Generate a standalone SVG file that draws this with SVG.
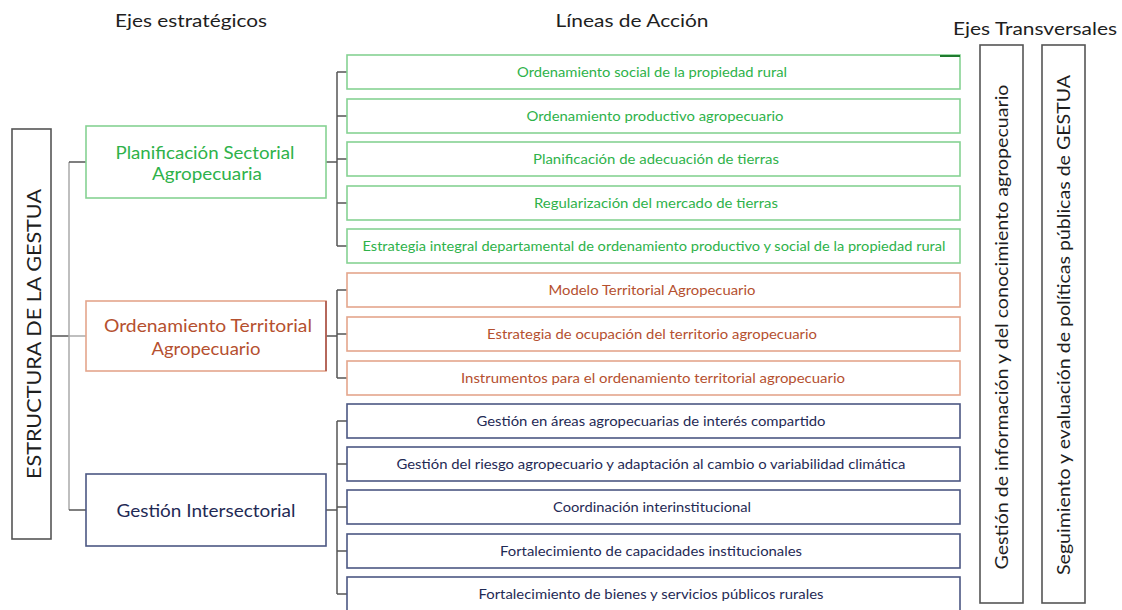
<svg xmlns="http://www.w3.org/2000/svg" width="1122" height="610" viewBox="0 0 1122 610">
<style>
text{font-family:Lato,"Open Sans","Liberation Sans",sans-serif;text-anchor:middle;dominant-baseline:central}
.hdr{font-size:18px;fill:#1e1e1e}
.act{font-size:13px}
.str{font-size:17px}
.box{fill:#fff;stroke-width:1.6}
.g{stroke:#86d293}.gt{fill:#2eb24a}
.o{stroke:#e4a68c}.ot{fill:#b5502f}
.b{stroke:#4c5783}.bt{fill:#1f2a55}
.k{stroke:#555;fill:#fff;stroke-width:1.6}
.c{fill:none;stroke:#555;stroke-width:1.5}
.cl{fill:none;stroke:#aaa;stroke-width:1.5}
</style>
<g id="headers">
<text class="hdr" x="191" y="20" textLength="152" lengthAdjust="spacingAndGlyphs">Ejes estratégicos</text>
<text class="hdr" x="632" y="20" textLength="153" lengthAdjust="spacingAndGlyphs">Líneas de Acción</text>
<text class="hdr" x="1035" y="28" textLength="164" lengthAdjust="spacingAndGlyphs">Ejes Transversales</text>
</g>
<g id="connectors">
<path class="c" d="M51 336H69"/>
<path class="cl" d="M69 162V510"/>
<path class="c" d="M69 162H86M69 510H86"/>
<path class="cl" d="M69 336H86"/>
<path class="c" d="M326 162H337M337 72V246M337 72H347M337 116H347M337 159H347M337 203H347M337 246H347"/>
<path class="c" d="M326 336H337M337 290V378M337 290H347M337 334H347M337 378H347"/>
<path class="c" d="M326 510H337M337 421V594M337 421H347M337 464H347M337 507H347M337 551H347M337 594H347"/>
</g>
<g id="root">
<rect class="k" x="12" y="129" width="39" height="410"/>
<text x="33" y="334" font-size="20" fill="#1e1e1e" transform="rotate(-90 33 334)" textLength="290" lengthAdjust="spacingAndGlyphs">ESTRUCTURA DE LA GESTUA</text>
</g>
<g id="eje-planificacion">
<rect class="box g" x="86" y="126" width="240" height="72" stroke="#5cbf6a"/>
<text class="str gt" x="205" y="152" textLength="179" lengthAdjust="spacingAndGlyphs">Planificación  Sectorial</text>
<text class="str gt" x="207" y="173" textLength="110" lengthAdjust="spacingAndGlyphs">Agropecuaria</text>
</g>
<g id="eje-ordenamiento">
<rect class="box o" x="86" y="301" width="240" height="70"/>
<path d="M326 301V371" stroke="#a8544a" stroke-width="1.6"/>
<text class="str ot" x="208" y="325" textLength="208" lengthAdjust="spacingAndGlyphs">Ordenamiento Territorial</text>
<text class="str ot" x="206" y="348" textLength="109" lengthAdjust="spacingAndGlyphs">Agropecuario</text>
</g>
<g id="eje-gestion">
<rect class="box b" x="86" y="474" width="240" height="72"/>
<text class="str bt" x="206" y="510" textLength="179" lengthAdjust="spacingAndGlyphs">Gestión Intersectorial</text>
</g>
<g id="a1"><rect class="box g" x="347" y="55" width="613" height="34"/><path d="M940 56H960" stroke="#1f7a2e" stroke-width="2"/><text class="act gt" x="652" y="72" textLength="270" lengthAdjust="spacingAndGlyphs">Ordenamiento social de la propiedad rural</text></g>
<g id="a2"><rect class="box g" x="347" y="99" width="613" height="34"/><text class="act gt" x="655" y="116" textLength="257" lengthAdjust="spacingAndGlyphs">Ordenamiento productivo agropecuario</text></g>
<g id="a3"><rect class="box g" x="347" y="142" width="613" height="34"/><text class="act gt" x="656" y="159" textLength="246" lengthAdjust="spacingAndGlyphs">Planificación de adecuación de tierras</text></g>
<g id="a4"><rect class="box g" x="347" y="186" width="613" height="34"/><text class="act gt" x="656" y="203" textLength="244" lengthAdjust="spacingAndGlyphs">Regularización del mercado de tierras</text></g>
<g id="a5"><rect class="box g" x="347" y="229" width="613" height="34"/><text class="act gt" x="654" y="246" textLength="583" lengthAdjust="spacingAndGlyphs">Estrategia integral departamental de ordenamiento productivo y social de la propiedad rural</text></g>
<g id="a6"><rect class="box o" x="347" y="273" width="613" height="34"/><text class="act ot" x="652" y="290" textLength="207" lengthAdjust="spacingAndGlyphs">Modelo Territorial Agropecuario</text></g>
<g id="a7"><rect class="box o" x="347" y="317" width="613" height="34"/><text class="act ot" x="652" y="334" textLength="330" lengthAdjust="spacingAndGlyphs">Estrategia de ocupación del territorio agropecuario</text></g>
<g id="a8"><rect class="box o" x="347" y="361" width="613" height="34"/><text class="act ot" x="653" y="378" textLength="384" lengthAdjust="spacingAndGlyphs">Instrumentos para el ordenamiento territorial agropecuario</text></g>
<g id="a9"><rect class="box b" x="347" y="404" width="613" height="34" stroke="#3c4252"/><text class="act bt" x="651" y="421" textLength="349" lengthAdjust="spacingAndGlyphs">Gestión en áreas agropecuarias de interés compartido</text></g>
<g id="a10"><rect class="box b" x="347" y="447" width="613" height="34"/><text class="act bt" x="651" y="464" textLength="509" lengthAdjust="spacingAndGlyphs">Gestión del riesgo agropecuario y adaptación al cambio o variabilidad climática</text></g>
<g id="a11"><rect class="box b" x="347" y="490" width="613" height="34"/><text class="act bt" x="652" y="507" textLength="198" lengthAdjust="spacingAndGlyphs">Coordinación interinstitucional</text></g>
<g id="a12"><rect class="box b" x="347" y="534" width="613" height="34" stroke="#3c4252"/><text class="act bt" x="651" y="551" textLength="302" lengthAdjust="spacingAndGlyphs">Fortalecimiento de capacidades institucionales</text></g>
<g id="a13"><rect class="box b" x="347" y="577" width="613" height="34"/><text class="act bt" x="651" y="594" textLength="345" lengthAdjust="spacingAndGlyphs">Fortalecimiento de bienes y servicios públicos rurales</text></g>
<g id="t1">
<rect class="k" x="980" y="45" width="43" height="558"/>
<text x="1001" y="327" font-size="17" fill="#1e1e1e" transform="rotate(-90 1001 327)" textLength="485" lengthAdjust="spacingAndGlyphs">Gestión de información y del conocimiento agropecuario</text>
</g>
<g id="t2">
<rect class="k" x="1042" y="45" width="43" height="558"/>
<text x="1063" y="325" font-size="17" fill="#1e1e1e" transform="rotate(-90 1063 325)" textLength="500" lengthAdjust="spacingAndGlyphs">Seguimiento y evaluación de políticas públicas de GESTUA</text>
</g>
</svg>
